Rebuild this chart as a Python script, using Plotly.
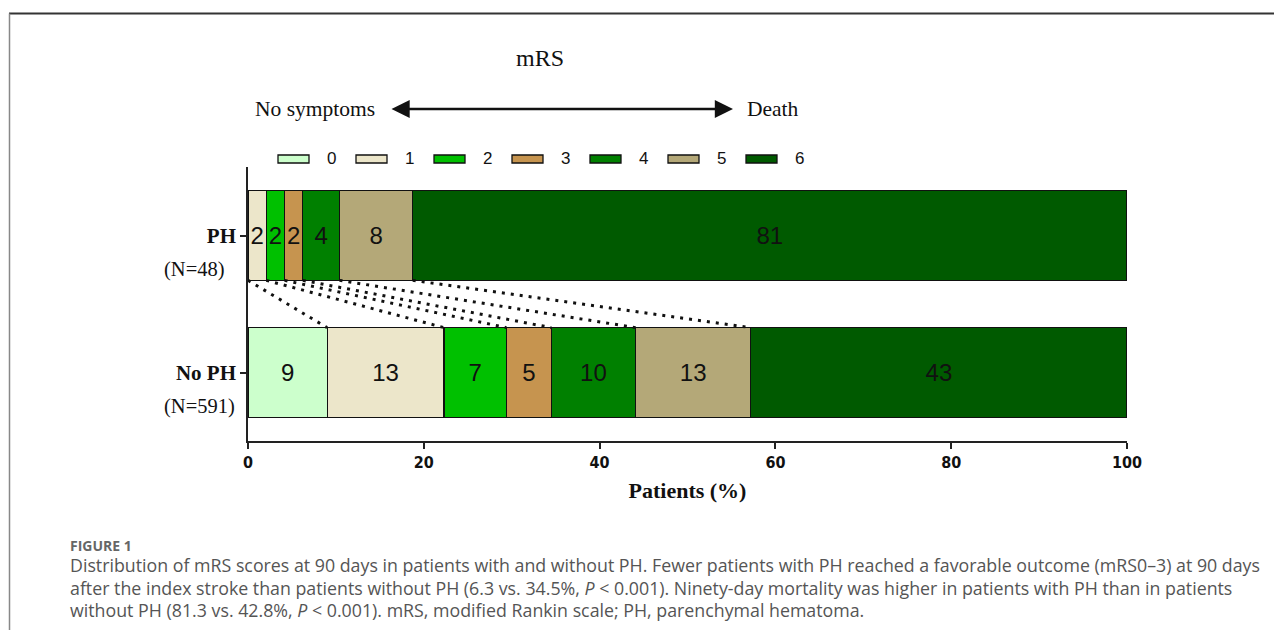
import plotly.graph_objects as go

# ---------------- data ----------------
groups = ["PH", "No PH"]
group_n = ["(N=48)", "(N=591)"]
mrs_levels = ["0", "1", "2", "3", "4", "5", "6"]
ph_pct = [0.0, 2.08, 2.08, 2.08, 4.17, 8.33, 81.26]
noph_pct = [9.0, 13.3, 7.1, 5.1, 9.6, 13.1, 42.8]
ph_labels = ["", "2", "2", "2", "4", "8", "81"]
noph_labels = ["9", "13", "7", "5", "10", "13", "43"]
x_ticks = [0, 20, 40, 60, 80, 100]
colors = ["#CCFFCC", "#ECE6CA", "#00C000", "#C6944F", "#008000", "#B4A878", "#005A00"]

# ---------------- geometry helpers ----------------
OFF = 8  # page body margin
W, H = 1282 - OFF, 630 - OFF
L, T = 248 - OFF, 167 - OFF
R = W - (1127 - OFF)
B = H - (441 - OFF)
PW, PH_ = W - L - R, H - T - B
def px(x):  # reference-screen x -> paper
    return (x - OFF - L) / PW
def py(y):  # reference-screen y -> paper
    return (H - B - (y - OFF)) / PH_

y_pos = {"PH": 1, "No PH": 0}
bar_w = 0.655

fig = go.Figure()
for i, lev in enumerate(mrs_levels):
    fig.add_trace(go.Bar(
        orientation="h",
        y=[y_pos["PH"], y_pos["No PH"]],
        x=[ph_pct[i], noph_pct[i]],
        width=bar_w,
        name=lev,
        marker=dict(color=colors[i], line=dict(color="#111111", width=1.2)),
        text=[ph_labels[i], noph_labels[i]],
        textposition="inside",
        insidetextanchor="middle",
        constraintext="none",
        textfont=dict(family="Liberation Sans, Arial", size=24, color="#111111"),
        showlegend=False,
        hoverinfo="skip",
    ))

# dotted connectors between cumulative boundaries
cum_ph, cum_no = [], []
s1 = s2 = 0
for a, b in zip(ph_pct, noph_pct):
    s1 += a; s2 += b
    cum_ph.append(s1); cum_no.append(s2)
for k in range(len(mrs_levels) - 1):
    fig.add_trace(go.Scatter(
        x=[cum_ph[k], cum_no[k]],
        y=[y_pos["PH"] - bar_w / 2, y_pos["No PH"] + bar_w / 2],
        mode="lines",
        line=dict(color="#111111", width=3, dash="3px,6px"),
        showlegend=False, hoverinfo="skip",
    ))

serif = "Liberation Serif, Times New Roman"
fig.update_layout(
    width=W, height=H,
    margin=dict(l=L, r=R, t=T, b=B),
    barmode="stack",
    plot_bgcolor="white", paper_bgcolor="white",
    xaxis=dict(
        range=[0, 100], tickvals=x_ticks, ticktext=[f"<b>{v}</b>" for v in x_ticks],
        showgrid=False, zeroline=False, showline=True, linecolor="#222", linewidth=1.6,
        ticks="outside", ticklen=6, tickwidth=1.6, tickcolor="#222",
        tickfont=dict(family="DejaVu Sans Condensed, Liberation Sans Narrow, Liberation Sans", size=16, color="#111"),
        title=dict(text="<b>Patients (%)</b>", font=dict(family=serif, size=22, color="#111"), standoff=12),
    ),
    yaxis=dict(
        range=[-0.5, 1.5], tickvals=[y_pos[g] for g in groups],
        ticktext=[f"<b>{g}</b>" for g in groups],
        showgrid=False, zeroline=False, showline=True, linecolor="#222", linewidth=1.6,
        ticks="outside", ticklen=6, tickwidth=1.6, tickcolor="#222",
        tickfont=dict(family=serif, size=21, color="#111"),
    ),
)

ann = []
def text_ann(x, y, text, size, family, color="#111", xanchor="center", yref="paper", yshift=0):
    ann.append(dict(x=px(x), y=y if yref == "y" else py(y), xref="paper", yref=yref,
                    text=text, showarrow=False, xanchor=xanchor, yanchor="middle",
                    yshift=yshift, font=dict(family=family, size=size, color=color)))

# N labels
for g, n in zip(groups, group_n):
    text_ann(162, y_pos[g], n, 20.5, serif, xanchor="left", yref="y", yshift=-34)
# top header
text_ann(540, 58, "mRS", 24, serif)
text_ann(377, 109, "No symptoms", 21.5, serif, xanchor="right")
text_ann(745, 109, "Death", 21.5, serif, xanchor="left")
ann.append(dict(x=px(733), y=py(109), xref="paper", yref="paper", ax=-343, ay=0,
                axref="pixel", ayref="pixel", text="", showarrow=True,
                arrowhead=2, startarrowhead=2, arrowside="end+start", arrowsize=1.4,
                startarrowsize=1.4, arrowwidth=2.6, arrowcolor="#111"))

shapes = []
# custom legend
for i, lev in enumerate(mrs_levels):
    x0 = 278 + 78.0 * i
    shapes.append(dict(type="rect", xref="paper", yref="paper",
                       x0=px(x0), x1=px(x0 + 31), y0=py(163), y1=py(155),
                       fillcolor=colors[i], line=dict(color="#111", width=1.3)))
    text_ann(x0 + 53.5, 158, lev, 17, "Liberation Sans, Arial")

# figure frame
shapes.append(dict(type="line", xref="paper", yref="paper", x0=px(9), x1=px(1282),
                   y0=py(13.5), y1=py(13.5), line=dict(color="#333", width=2)))
shapes.append(dict(type="line", xref="paper", yref="paper", x0=px(9.5), x1=px(9.5),
                   y0=py(13.5), y1=py(630), line=dict(color="#888", width=1.5)))

# caption
cap_font = "Open Sans, Noto Sans, Liberation Sans"
text_ann(68, 545, "<b>FIGURE 1</b>", 14, cap_font, color="#666", xanchor="left")
cap_lines = [
    "Distribution of mRS scores at 90 days in patients with and without PH. Fewer patients with PH reached a favorable outcome (mRS0–3) at 90 days",
    "after the index stroke than patients without PH (6.3 vs. 34.5%, <i>P</i> &lt; 0.001). Ninety-day mortality was higher in patients with PH than in patients",
    "without PH (81.3 vs. 42.8%, <i>P</i> &lt; 0.001). mRS, modified Rankin scale; PH, parenchymal hematoma.",
]
for j, line in enumerate(cap_lines):
    text_ann(68, 565 + 22.5 * j, line, 17.8, cap_font, color="#555", xanchor="left")

fig.update_layout(annotations=ann, shapes=shapes)
fig.write_html("out.html")
